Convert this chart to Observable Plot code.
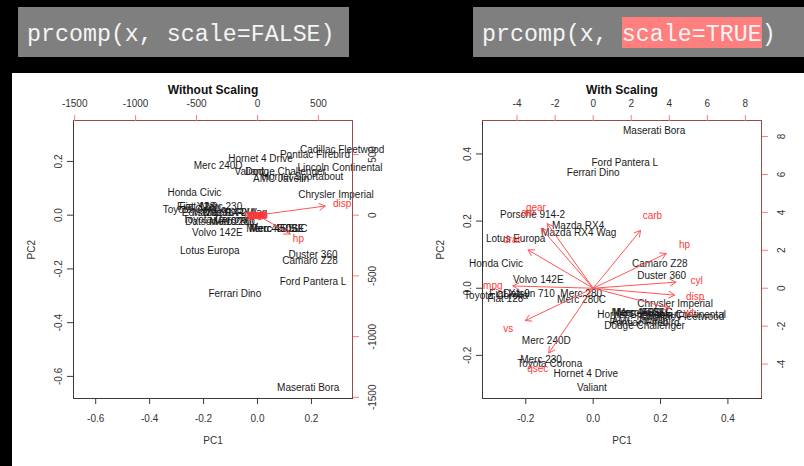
<!DOCTYPE html>
<html>
<head>
<meta charset="utf-8">
<script src="https://cdn.jsdelivr.net/npm/d3@7"></script>
<script src="https://cdn.jsdelivr.net/npm/@observablehq/plot@0.6"></script>
<style>
html, body { margin: 0; padding: 0; background: #000; }
#root { position: relative; width: 804px; height: 466px; overflow: hidden; background: #000; }
.hdr { position: absolute; top: 7px; height: 50px; background: #7f7f7f; }
.code { position: absolute; top: 15px; line-height: 26px; font-family: "Liberation Mono", "Courier New", monospace; font-size: 23.3px; color: #f4f4f4; white-space: pre; }
.hl { background: #ff7f7f; padding-top: 5px; }
#paper { position: absolute; left: 12px; top: 73px; width: 792px; height: 393px; background: #fff; }
.panel { position: absolute; top: 73px; height: 393px; }
.panel svg { position: absolute; left: 0; top: 0; max-width: none; }
</style>
</head>
<body>
<div id="root">
  <div class="hdr" style="left:18px;width:331px"><div class="code" style="left:9px">prcomp(x, scale=FALSE)</div></div>
  <div class="hdr" style="left:473px;width:331px"><div class="code" style="left:9px">prcomp(x, <span class="hl">scale=TRUE</span>)</div></div>
  <div id="paper"></div>
  <div id="pl" class="panel" style="left:12px;width:390px"></div>
  <div id="pr" class="panel" style="left:402px;width:402px"></div>
</div>
<script>
// ---- data (biplot coordinates) ----
const cars = ["Mazda RX4","Mazda RX4 Wag","Datsun 710","Hornet 4 Drive","Hornet Sportabout","Valiant",
  "Duster 360","Merc 240D","Merc 230","Merc 280","Merc 280C","Merc 450SE","Merc 450SL","Merc 450SLC",
  "Cadillac Fleetwood","Lincoln Continental","Chrysler Imperial","Fiat 128","Honda Civic","Toyota Corolla",
  "Toyota Corona","Dodge Challenger","AMC Javelin","Camaro Z28","Pontiac Firebird","Fiat X1-9",
  "Porsche 914-2","Lotus Europa","Ford Pantera L","Ferrari Dino","Maserati Bora","Volvo 142E"];

// Without scaling: PC1 / PC2 scores (as plotted)
const pc1Unscaled = [-0.103,-0.103,-0.173,0.011,0.167,-0.030,0.206,-0.146,-0.134,-0.087,-0.087,0.0715,0.0715,0.0715,
  0.314,0.306,0.291,-0.223,-0.234,-0.233,-0.157,0.104,0.0875,0.195,0.213,-0.223,-0.160,-0.177,0.206,-0.084,0.188,-0.149];
const pc2Unscaled = [0.010,0.010,-0.023,0.208,0.143,0.163,-0.149,0.184,0.033,-0.024,-0.024,-0.052,-0.052,-0.052,
  0.243,0.177,0.075,0.031,0.083,0.019,-0.016,0.162,0.134,-0.169,0.224,0.031,0.010,-0.133,-0.247,-0.292,-0.644,-0.064];

// With scaling: PC1 / PC2 scores (as plotted)
const pc1Scaled = [-0.0445,-0.0426,-0.190,-0.022,0.1336,-0.0038,0.2032,-0.1391,-0.1548,-0.0356,-0.0345,0.1521,0.1386,0.1453,
  0.2641,0.2678,0.2431,-0.2610,-0.2884,-0.2882,-0.1290,0.1525,0.1382,0.1976,0.1528,-0.2480,-0.1800,-0.2300,0.0940,0.0000,0.1810,-0.1630];
const pc2Scaled = [0.1855,0.1657,-0.018,-0.254,-0.0806,-0.2978,0.0358,-0.1566,-0.2120,-0.0173,-0.0350,-0.0733,-0.0734,-0.0734,
  -0.0856,-0.0799,-0.0465,-0.0310,0.0740,-0.0240,-0.2260,-0.1114,-0.0971,0.0720,-0.1042,-0.0160,0.2190,0.1480,0.3730,0.3430,0.4690,0.0250];

const variables = ["mpg","cyl","disp","hp","drat","wt","qsec","vs","am","gear","carb"];
// loadings (as plotted on the red axes)
const load1Unscaled = [-29.4, 9.3, 694.7, 335.8, -2.05, 4.82, -5.15, -2.11, -1.52, -2.01, 4.45];
const load2Unscaled = [1.98, -0.73, 94.0, -194.1, -0.84, 1.05, 5.40, 0.47, -1.25, -2.43, -6.0];
const load1Scaled = [-5.272, 5.437, 5.354, 4.800, -4.278, 5.033, -2.915, -4.457, -3.417, -3.009, 3.112];
const load2Scaled = [0.148, 0.403, -0.454, 2.291, 2.530, -1.317, -4.267, -2.133, 3.955, 4.258, 3.809];

// tick labels
const pcTicksLeft = [-0.6, -0.4, -0.2, 0, 0.2];
const loadTicksLeft = [-1500, -1000, -500, 0, 500];
const pcTicksRight = [-0.2, 0, 0.2, 0.4];
const loadTicksRight = [-4, -2, 0, 2, 4, 6, 8];

const titles = ["Without Scaling", "With Scaling"];

// ---- drawing ----
const FONT = "'Liberation Sans', Arial, Helvetica, sans-serif";
const RED_LINE = "#9a4848", RED_TICK = "#ff7a7a", RED_ARROW = "#ff5555", RED_TEXT = "#ff3838";
const fmt1 = d => d.toFixed(1);

function unsignedRange(a) { return [-Math.abs(d3.min(a)), Math.abs(d3.max(a))]; }
function biplotLims(p1, p2, l1, l2) {
  const rx = d3.extent([...unsignedRange(p1), ...unsignedRange(p2)]);
  const ry1 = unsignedRange(l1), ry2 = unsignedRange(l2);
  const ratio = Math.max(ry1[0] / rx[0], ry1[1] / rx[1], ry2[0] / rx[0], ry2[1] / rx[1]);
  const pad = (rx[1] - rx[0]) * 0.04;
  const pc = [rx[0] - pad, rx[1] + pad];
  return {pc, load: pc.map(v => v * ratio)};
}

function drawPanel(el, {width, marginLeft, marginRight, title, pc1, pc2, load1, load2, pcTicks, loadTicks}) {
  const height = 393, marginTop = 47, marginBottom = 68;
  const lims = biplotLims(pc1, pc2, load1, load2);
  const style = {background: "transparent", fontFamily: FONT, fontSize: "10px", overflow: "visible", maxWidth: "none"};
  const dims = {width, height, marginTop, marginRight, marginBottom, marginLeft, style};
  const points = cars.map((name, i) => ({name, pc1: pc1[i], pc2: pc2[i]}));
  const loads = variables.map((name, i) => ({name, pc1: load1[i], pc2: load2[i]}));

  const base = Plot.plot({
    ...dims,
    x: {domain: lims.pc},
    y: {domain: lims.pc},
    marks: [
      Plot.frame({stroke: "#3a3a3a"}),
      Plot.axisX({anchor: "bottom", ticks: pcTicks, tickFormat: fmt1, tickSize: 6, tickPadding: 10, stroke: "#3a3a3a", fill: "#333", label: null}),
      Plot.axisY({anchor: "left", ticks: pcTicks, tickFormat: fmt1, tickSize: 6, tickPadding: 6, tickRotate: -90, stroke: "#3a3a3a", fill: "#333", label: null}),
      Plot.text(points, {x: "pc1", y: "pc2", text: "name", fill: "#1a1a1a", fontSize: 10}),
      Plot.text([title], {frameAnchor: "top", dy: -35, text: d => d, fontWeight: "bold", fontSize: 12, fill: "#111"}),
      Plot.text(["PC1"], {frameAnchor: "bottom", dy: 45, text: d => d, fontSize: 10, fill: "#333"}),
      Plot.text(["PC2"], {frameAnchor: "left", dx: -42, rotate: -90, text: d => d, fontSize: 10, fill: "#333"})
    ]
  });

  const over = Plot.plot({
    ...dims,
    x: {domain: lims.load},
    y: {domain: lims.load},
    marks: [
      Plot.ruleY([lims.load[1]], {stroke: RED_LINE}),
      Plot.ruleX([lims.load[1]], {stroke: RED_LINE}),
      Plot.axisX({anchor: "top", ticks: loadTicks, tickFormat: d => String(d), tickSize: 6, tickPadding: 8, stroke: RED_TICK, fill: "#333", label: null}),
      Plot.axisY({anchor: "right", ticks: loadTicks, tickFormat: d => String(d), tickSize: 6, tickPadding: 10, tickRotate: -90, lineAnchor: "top", stroke: RED_TICK, fill: "#333", label: null}),
      Plot.arrow(loads, {x1: () => 0, y1: () => 0, x2: d => d.pc1 * 0.8, y2: d => d.pc2 * 0.8, stroke: RED_ARROW, strokeWidth: 1, headLength: 10}),
      Plot.text(loads, {x: "pc1", y: "pc2", text: "name", fill: RED_TEXT, fontSize: 10})
    ]
  });
  el.appendChild(base);
  el.appendChild(over);
}

drawPanel(document.getElementById("pl"), {
  width: 390, marginLeft: 61, marginRight: 50, title: titles[0],
  pc1: pc1Unscaled, pc2: pc2Unscaled, load1: load1Unscaled, load2: load2Unscaled,
  pcTicks: pcTicksLeft, loadTicks: loadTicksLeft
});
drawPanel(document.getElementById("pr"), {
  width: 402, marginLeft: 80, marginRight: 43, title: titles[1],
  pc1: pc1Scaled, pc2: pc2Scaled, load1: load1Scaled, load2: load2Scaled,
  pcTicks: pcTicksRight, loadTicks: loadTicksRight
});
</script>
</body>
</html>
